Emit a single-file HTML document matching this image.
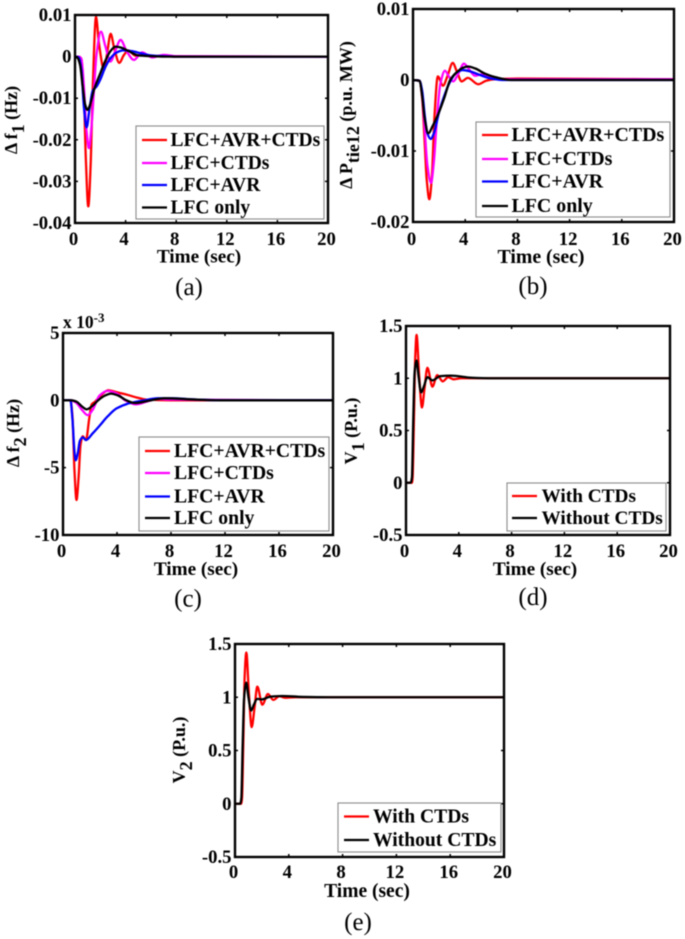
<!DOCTYPE html>
<html lang="en">
<head>
<meta charset="utf-8">
<title>Frequency, tie-line power and voltage responses</title>
<style>
  html, body { margin: 0; padding: 0; background: #fff; }
  #figure { display: block; width: 685px; height: 939px; filter: blur(0.45px); }
  text { font-family: "Liberation Serif", "DejaVu Serif", serif; fill: #000; }
</style>
</head>
<body>
<svg id="figure" xmlns="http://www.w3.org/2000/svg" width="685" height="939" viewBox="0 0 685 939"></svg>
<script>
// ---- shared axis data ----
const xTickValues = [0, 4, 8, 12, 16, 20];
const fourSeriesLabels = ['LFC+AVR+CTDs', 'LFC+CTDs', 'LFC+AVR', 'LFC only'];
const twoSeriesLabels = ['With CTDs', 'Without CTDs'];
const aYTicks = [0.01, 0, -0.01, -0.02, -0.03, -0.04];
const aYLabels = ['0.01', '0', '-0.01', '-0.02', '-0.03', '-0.04'];
const bYTicks = [0.01, 0, -0.01, -0.02];
const bYLabels = ['0.01', '0', '-0.01', '-0.02'];
const cYTicks = [5, 0, -5, -10];
const cYLabels = ['5', '0', '-5', '-10'];
const vYTicks = [1.5, 1, 0.5, 0, -0.5];
const vYLabels = ['1.5', '1', '0.5', '0', '-0.5'];

// ---- panel (a): delta f1 ----
const aRedTime = [0, 0.3, 0.5, 0.7, 0.85, 1.05, 1.25, 1.4, 1.66, 1.9, 2.3, 2.55, 2.82, 3.1, 3.5, 3.85, 4.2, 4.8, 5.4, 6, 7, 8, 20];
const aRedValue = [0, 0, -0.0005, -0.009, -0.024, -0.036, -0.025, -0.008, 0.0095, 0.003, -0.0032, 0.001, 0.0055, 0.002, -0.0015, 0.0003, 0.0015, 0.0002, 0.0006, 0.0001, 0.0002, 0, 0];
const aMagentaTime = [0, 0.3, 0.5, 0.7, 0.9, 1.1, 1.3, 1.5, 1.7, 2.05, 2.4, 2.8, 3.2, 3.6, 4.1, 4.66, 5.3, 6.1, 7, 8, 20];
const aMagentaValue = [0, 0, -0.0005, -0.007, -0.0175, -0.022, -0.017, -0.008, 0.0005, 0.006, 0.0025, -0.0012, 0.0015, 0.004, 0.0012, -0.0008, 0.001, -0.0002, 0.0004, 0.0001, 0];
const aBlueTime = [0, 0.3, 0.5, 0.7, 0.92, 1.15, 1.4, 1.7, 2, 2.4, 2.8, 3.3, 3.8, 4.5, 5.2, 6, 7, 8, 20];
const aBlueValue = [0, -0.0002, -0.003, -0.012, -0.017, -0.0125, -0.0082, -0.0072, -0.0055, -0.0025, -0.0004, 0.001, 0.0015, 0.0013, 0.0008, 0.0003, 0.0001, 0, 0];
const aBlackTime = [0, 0.2, 0.4, 0.6, 0.8, 0.98, 1.2, 1.5, 2, 2.4, 2.8, 3.2, 3.6, 4.2, 5, 6, 7, 20];
const aBlackValue = [0, -0.0003, -0.002, -0.007, -0.0115, -0.0128, -0.0115, -0.008, -0.004, -0.001, 0.0013, 0.0024, 0.0022, 0.0014, 0.0003, 0.0001, 0, 0];

// ---- panel (b): delta P tie12 ----
const bRedTime = [0, 0.5, 0.7, 0.9, 1.05, 1.25, 1.45, 1.65, 1.9, 2.3, 2.65, 3.04, 3.4, 3.73, 4.2, 5, 5.6, 6.2, 8, 20];
const bRedValue = [0, -0.0001, -0.0025, -0.009, -0.014, -0.0168, -0.0135, -0.005, 0.0005, -0.0008, 0.0006, 0.0024, 0.001, -0.0002, 0.0003, -0.0006, -0.0001, 0.0001, 0.0002, 0.0001];
const bMagentaTime = [0, 0.5, 0.7, 0.9, 1.1, 1.38, 1.6, 1.85, 2.1, 2.45, 2.75, 3.07, 3.5, 3.9, 4.3, 4.75, 5.3, 6, 7, 8, 20];
const bMagentaValue = [0, -0.0001, -0.002, -0.007, -0.012, -0.0145, -0.0115, -0.005, -0.0005, 0.0013, 0.0005, -0.0002, 0.001, 0.0023, 0.0015, 0.0006, 0.0008, 0.0003, 0.0001, 0.0001, 0.0001];
const bBlueTime = [0, 0.5, 0.7, 0.9, 1.1, 1.35, 1.6, 2, 2.4, 2.8, 3.3, 3.8, 4.4, 5, 6, 7, 8, 20];
const bBlueValue = [0, -0.0001, -0.0015, -0.005, -0.0075, -0.0083, -0.0075, -0.0045, -0.0022, -0.0004, 0.001, 0.0014, 0.0012, 0.0008, 0.0002, 0, 0, 0];
const bBlackTime = [0, 0.5, 0.7, 0.9, 1.17, 1.5, 2, 2.4, 2.85, 3.3, 3.8, 4.2, 4.8, 5.5, 6.3, 7.5, 20];
const bBlackValue = [0, -0.0001, -0.0022, -0.0055, -0.0075, -0.0065, -0.0045, -0.0025, 0, 0.001, 0.0017, 0.0019, 0.0016, 0.0009, 0.0004, 0, 0];

// ---- panel (c): delta f2 (x 10^-3) ----
const cRedTime = [0, 0.55, 0.7, 0.85, 1, 1.15, 1.3, 1.46, 1.7, 1.95, 2.12, 2.37, 2.8, 3.35, 4, 4.8, 5.5, 6.2, 8, 20];
const cRedValue = [0, 0, -1.2, -5.2, -7.4, -5.8, -3.3, -2.67, -2.95, -1.3, -0.3, -0.1, 0.35, 0.75, 0.6, 0.4, 0.2, 0.05, 0, 0];
const cMagentaTime = [0, 0.6, 1, 1.4, 1.83, 2.2, 2.7, 3.3, 4, 4.6, 5.4, 6.2, 7, 8, 20];
const cMagentaValue = [0, 0, -0.2, -0.7, -1.1, -0.7, 0.35, 0.7, 0.5, 0, -0.3, -0.1, 0.1, 0.05, 0];
const cBlueTime = [0, 0.55, 0.7, 0.85, 0.94, 1.1, 1.25, 1.46, 1.7, 2.2, 2.74, 3.3, 3.97, 4.96, 6, 7, 8, 10, 12, 20];
const cBlueValue = [0, 0, -1.4, -3.8, -4.45, -3.9, -3, -2.75, -2.95, -2.45, -1.85, -1.2, -0.6, -0.2, 0, 0.15, 0.15, 0.05, 0, 0];
const cBlackTime = [0, 0.6, 1, 1.4, 1.75, 2.2, 2.6, 3.1, 3.55, 4.1, 4.7, 5.3, 6.5, 7.5, 10, 12, 20];
const cBlackValue = [0, 0, -0.1, -0.45, -0.67, -0.4, 0, 0.35, 0.5, 0.35, 0, -0.2, 0, 0.15, 0.05, 0, 0];

// ---- panel (d): V1 ----
const dRedTime = [0, 0.45, 0.5, 0.6, 0.7, 0.8, 1, 1.21, 1.4, 1.62, 2, 2.37, 2.78, 3.2, 3.6, 4.2, 20];
const dRedValue = [0, 0, 0.05, 0.6, 1.2, 1.415, 1.02, 0.72, 0.9, 1.1, 0.92, 1.03, 0.97, 1.01, 0.99, 1, 1];
const dBlackTime = [0, 0.35, 0.45, 0.55, 0.65, 0.8, 0.95, 1.14, 1.35, 1.62, 2, 2.6, 3.4, 5, 6.5, 20];
const dBlackValue = [0, 0, 0.05, 0.6, 1.05, 1.17, 1.02, 0.865, 0.92, 1.01, 0.98, 1.02, 1.025, 1.005, 1, 1];

// ---- panel (e): V2 ----
const eRedTime = [0, 0.45, 0.52, 0.62, 0.72, 0.84, 1.04, 1.24, 1.45, 1.66, 2.03, 2.45, 2.85, 3.3, 3.7, 4.5, 20];
const eRedValue = [0, 0, 0.05, 0.6, 1.2, 1.42, 1.02, 0.72, 0.9, 1.1, 0.93, 1.03, 0.975, 1.01, 0.995, 1, 1];
const eBlackTime = [0, 0.38, 0.47, 0.57, 0.68, 0.84, 1, 1.2, 1.4, 1.65, 2, 2.6, 3.5, 5, 7, 20];
const eBlackValue = [0, 0, 0.05, 0.55, 1, 1.137, 1, 0.875, 0.93, 0.985, 0.98, 1.005, 1.012, 1.003, 1, 1];

const svgNS = 'http://www.w3.org/2000/svg';
const figure = document.getElementById('figure');

function make(parent, tag, attrs) {
  const el = document.createElementNS(svgNS, tag);
  for (const k in attrs) el.setAttribute(k, attrs[k]);
  parent.appendChild(el);
  return el;
}

// Monotone cubic path, keeps read extrema exact
function monotonePath(px, py) {
  const n = px.length;
  const slope = [];
  for (let i = 0; i < n - 1; i++) slope.push((py[i + 1] - py[i]) / (px[i + 1] - px[i]));
  const tan = [slope[0]];
  for (let i = 1; i < n - 1; i++) {
    tan.push(slope[i - 1] * slope[i] <= 0 ? 0 : 2 * slope[i - 1] * slope[i] / (slope[i - 1] + slope[i]));
  }
  tan.push(slope[n - 2]);
  let d = 'M' + px[0].toFixed(2) + ' ' + py[0].toFixed(2);
  for (let i = 0; i < n - 1; i++) {
    const h = (px[i + 1] - px[i]) / 3;
    d += 'C' + (px[i] + h).toFixed(2) + ' ' + (py[i] + tan[i] * h).toFixed(2) + ' '
      + (px[i + 1] - h).toFixed(2) + ' ' + (py[i + 1] - tan[i + 1] * h).toFixed(2) + ' '
      + px[i + 1].toFixed(2) + ' ' + py[i + 1].toFixed(2);
  }
  return d;
}

function drawPanel(p) {
  const g = make(figure, 'g', {});
  
  

  const xScale = function (t) { return p.left + (t - 0) / 20 * (p.right - p.left); };
  const yScale = function (v) { return p.top + (p.yMax - v) / (p.yMax - p.yMin) * (p.bottom - p.top); };

  // series
  p.series.forEach(function (s) {
    const line = make(g, 'path', {
      d: monotonePath(s.time.map(xScale), s.value.map(yScale)),
      fill: 'none', stroke: s.color, 'stroke-width': 2.3, 'stroke-linejoin': 'round'
    });
    
    
  });

  // frame
  const frame = make(g, 'rect', {
    x: p.left, y: p.top, width: p.right - p.left, height: p.bottom - p.top,
    fill: 'none', stroke: '#000', 'stroke-width': 2.4
  });
  
  

  // x ticks and labels
  xTickValues.forEach(function (v) {
    const x = xScale(v);
    make(g, 'path', { d: 'M' + x + ' ' + p.bottom + 'v-3M' + x + ' ' + p.top + 'v3', stroke: '#000', 'stroke-width': 1.5, fill: 'none' });
    const label = make(g, 'text', { x: x - 1.5, y: p.xTickBase, 'text-anchor': 'middle', 'font-size': p.tickSize, 'font-weight': 'bold' });
    label.textContent = String(v);
    
    
  });

  // y ticks and labels
  p.yTicks.forEach(function (v, i) {
    const y = yScale(v);
    make(g, 'path', { d: 'M' + p.left + ' ' + y + 'h3M' + p.right + ' ' + y + 'h-3', stroke: '#000', 'stroke-width': 1.5, fill: 'none' });
    const label = make(g, 'text', { x: p.left - 3.5, y: y + 6, 'text-anchor': 'end', 'font-size': p.tickSize, 'font-weight': 'bold' });
    label.textContent = p.yLabels[i];
    
    
  });

  // x axis title
  const xTitle = make(g, 'text', { x: p.xTitleX, y: p.xTitleY, 'text-anchor': 'middle', 'font-size': p.xTitleSize, 'font-weight': 'bold' });
  xTitle.textContent = 'Time (sec)';
  
  

  // y axis title
  const yTitle = make(g, 'text', {
    transform: 'translate(' + p.yTitleX + ' ' + p.yTitleY + ') rotate(-90)',
    'text-anchor': 'middle', 'font-size': p.yTitleSize, 'font-weight': 'bold'
  });
  
  
  make(yTitle, 'tspan', {}).textContent = p.yTitle[0];
  make(yTitle, 'tspan', { dy: 7 }).textContent = p.yTitle[1];
  make(yTitle, 'tspan', { dy: -7 }).textContent = p.yTitle[2];

  // legend
  const legend = make(g, 'g', {});
  
  
  make(legend, 'rect', {
    x: p.legend.x0, y: p.legend.y0, width: p.legend.x1 - p.legend.x0, height: p.legend.y1 - p.legend.y0,
    fill: '#fff', stroke: '#8a8a8a', 'stroke-width': 1.1
  });
  p.legend.labels.forEach(function (label, i) {
    const cy = p.legend.rows[i];
    const entry = make(legend, 'g', {});
    
    
    make(entry, 'line', { x1: p.legend.lineX0, x2: p.legend.lineX1, y1: cy, y2: cy, stroke: p.series[i].color, 'stroke-width': 2.3 });
    const text = make(entry, 'text', { x: p.legend.textX, y: cy + 6, 'font-size': p.legend.size, 'font-weight': 'bold' });
    text.textContent = label;
  });

  // caption
  const caption = make(g, 'text', { x: p.capX, y: p.capY, 'text-anchor': 'middle', 'font-size': 25 });
  caption.textContent = '(' + p.id + ')';
  
  
}

drawPanel({
  id: 'a', left: 75, right: 328, top: 15, bottom: 223, yMax: 0.01, yMin: -0.04,
  yTicks: aYTicks, yLabels: aYLabels, tickSize: 18.7, xTickBase: 245,
  xTitleX: 199, xTitleY: 262.5, xTitleSize: 19.2, yTitleX: 17, yTitleY: 120, yTitleSize: 18,
  yTitle: ['\u0394 f', '1', ' (Hz)'], capX: 189, capY: 295,
  series: [
    { name: 'lfc-avr-ctds', color: '#ff0000', time: aRedTime, value: aRedValue },
    { name: 'lfc-ctds', color: '#ff00ff', time: aMagentaTime, value: aMagentaValue },
    { name: 'lfc-avr', color: '#0000ff', time: aBlueTime, value: aBlueValue },
    { name: 'lfc-only', color: '#000000', time: aBlackTime, value: aBlackValue }
  ],
  legend: { x0: 136, x1: 324, y0: 126, y1: 219, lineX0: 142, lineX1: 167, textX: 170.5, size: 19.5, rows: [140, 163, 185, 207.5], labels: fourSeriesLabels }
});

drawPanel({
  id: 'b', left: 413, right: 674, top: 9, bottom: 222, yMax: 0.01, yMin: -0.02,
  yTicks: bYTicks, yLabels: bYLabels, tickSize: 18.7, xTickBase: 245,
  xTitleX: 541, xTitleY: 263, xTitleSize: 19.8, yTitleX: 352, yTitleY: 115, yTitleSize: 18,
  yTitle: ['\u0394 P', 'tie12', ' (p.u. MW)'], capX: 533, capY: 294,
  series: [
    { name: 'lfc-avr-ctds', color: '#ff0000', time: bRedTime, value: bRedValue },
    { name: 'lfc-ctds', color: '#ff00ff', time: bMagentaTime, value: bMagentaValue },
    { name: 'lfc-avr', color: '#0000ff', time: bBlueTime, value: bBlueValue },
    { name: 'lfc-only', color: '#000000', time: bBlackTime, value: bBlackValue }
  ],
  legend: { x0: 476, x1: 670, y0: 122, y1: 217, lineX0: 482, lineX1: 508, textX: 511.5, size: 19.9, rows: [135, 159, 181.5, 206], labels: fourSeriesLabels }
});

drawPanel({
  id: 'c', left: 63, right: 333, top: 333, bottom: 535, yMax: 5, yMin: -10,
  yTicks: cYTicks, yLabels: cYLabels, tickSize: 18.7, xTickBase: 557,
  xTitleX: 196, xTitleY: 575, xTitleSize: 19.2, yTitleX: 19, yTitleY: 433, yTitleSize: 18,
  yTitle: ['\u0394 f', '2', ' (Hz)'], capX: 188, capY: 606.5,
  series: [
    { name: 'lfc-avr-ctds', color: '#ff0000', time: cRedTime, value: cRedValue },
    { name: 'lfc-ctds', color: '#ff00ff', time: cMagentaTime, value: cMagentaValue },
    { name: 'lfc-avr', color: '#0000ff', time: cBlueTime, value: cBlueValue },
    { name: 'lfc-only', color: '#000000', time: cBlackTime, value: cBlackValue }
  ],
  legend: { x0: 139, x1: 329, y0: 437, y1: 531, lineX0: 145, lineX1: 170, textX: 174, size: 19.7, rows: [451, 473, 496.5, 518], labels: fourSeriesLabels }
});

drawPanel({
  id: 'd', left: 406, right: 670, top: 326, bottom: 535, yMax: 1.5, yMin: -0.5,
  yTicks: vYTicks, yLabels: vYLabels, tickSize: 18.7, xTickBase: 557,
  xTitleX: 535, xTitleY: 575, xTitleSize: 19.2, yTitleX: 357, yTitleY: 431, yTitleSize: 18,
  yTitle: ['V', '1', ' (P.u.)'], capX: 533, capY: 605,
  series: [
    { name: 'with-ctds', color: '#ff0000', time: dRedTime, value: dRedValue },
    { name: 'without-ctds', color: '#000000', time: dBlackTime, value: dBlackValue }
  ],
  legend: { x0: 507, x1: 666, y0: 483, y1: 531, lineX0: 512, lineX1: 537, textX: 541.5, size: 19.3, rows: [496, 518], labels: twoSeriesLabels }
});

drawPanel({
  id: 'e', left: 235, right: 504, top: 644, bottom: 857, yMax: 1.5, yMin: -0.5,
  yTicks: vYTicks, yLabels: vYLabels, tickSize: 18.7, xTickBase: 878,
  xTitleX: 367, xTitleY: 897, xTitleSize: 19.5, yTitleX: 185, yTitleY: 750, yTitleSize: 18,
  yTitle: ['V', '2', ' (P.u.)'], capX: 358, capY: 930,
  series: [
    { name: 'with-ctds', color: '#ff0000', time: eRedTime, value: eRedValue },
    { name: 'without-ctds', color: '#000000', time: eBlackTime, value: eBlackValue }
  ],
  legend: { x0: 338, x1: 501, y0: 803, y1: 852, lineX0: 344, lineX1: 369, textX: 373, size: 19.6, rows: [816.5, 840], labels: twoSeriesLabels }
});

// axis exponent on panel (c)
const exponent = make(figure, 'text', { x: 63, y: 328, 'font-size': 17.5, 'font-weight': 'bold' });


make(exponent, 'tspan', {}).textContent = 'x 10';
make(exponent, 'tspan', { dy: -6, 'font-size': 13 }).textContent = '-3';
</script>
</body>
</html>
